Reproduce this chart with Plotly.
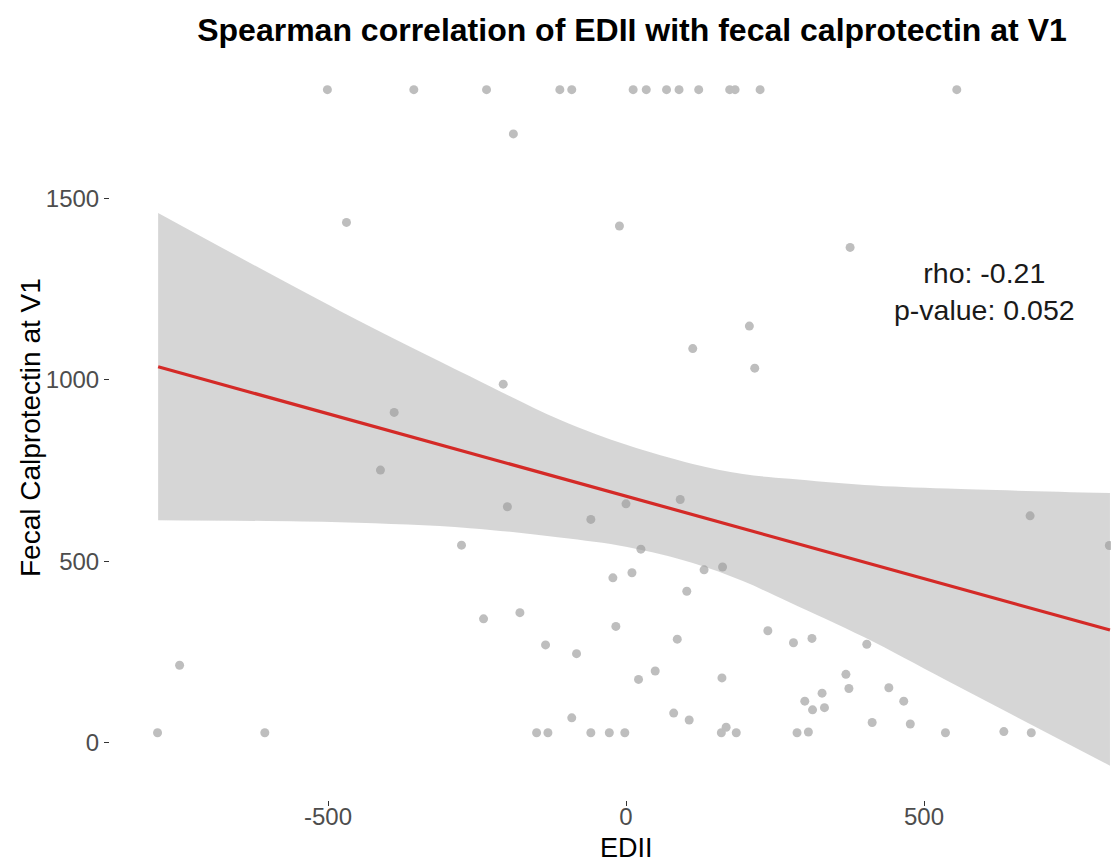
import plotly.graph_objects as go

# EDII (x) and fecal calprotectin at V1 (y)
edii = [
    -501, -356, -234, -111, -91, 12, 34, 68, 89, 122, 174, 183, 225, 555,
    -189, -469, -11, 376, 207, 112, 216, -206, -389, -412, -276, 678, 811,
    -749, -786, -606, -199, -59, 0, 91, 25, -22, 10, 131, 162, 102, -239,
    -178, -17, 86, 238, -135, -83, 49, 21, 161, 80, 106, -91,
    -150, -131, -59, -28, -2, 160, 168, 185,
    281, 312, 404, 369, 374, 441, 329, 300, 333, 313, 466, 413, 477,
    287, 306, 536, 634, 680,
]
calpro = [
    1800, 1800, 1800, 1800, 1800, 1800, 1800, 1800, 1800, 1800, 1800, 1800, 1800, 1800,
    1678, 1434, 1424, 1365, 1148, 1086, 1032, 988, 910, 751, 544, 625, 543,
    213, 27, 27, 650, 615, 658, 670, 533, 454, 468, 476, 484, 417, 341,
    358, 320, 285, 308, 269, 245, 197, 174, 178, 81, 62, 68,
    27, 27, 27, 27, 27, 27, 42, 27,
    275, 287, 271, 188, 149, 151, 136, 114, 96, 90, 114, 55, 51,
    27, 29, 27, 30, 27,
]

# linear fit line and its 95% confidence band
fit_x = [-785, 812]
fit_y = [1036, 310]
band_x = [-785, -480, -262, -111, 2, 112, 196, 275, 400, 539, 812]
band_upper = [1460, 1190, 1010, 890, 820, 768, 740, 727, 710, 700, 688]
band_lower = [613, 607, 591, 565, 539, 495, 445, 386, 290, 170, -64]

x_ticks = [-500, 0, 500]
y_ticks = [0, 500, 1000, 1500]
rho_text = "rho: -0.21<br>p-value: 0.052"

fig = go.Figure()
fig.add_trace(go.Scatter(x=edii, y=calpro, mode="markers",
                         marker=dict(size=9, color="#BEBEBE"), hoverinfo="skip"))
fig.add_trace(go.Scatter(x=band_x, y=band_upper, mode="lines",
                         line=dict(width=0, shape="spline", smoothing=1.0),
                         hoverinfo="skip"))
fig.add_trace(go.Scatter(x=band_x, y=band_lower, mode="lines",
                         line=dict(width=0, shape="spline", smoothing=1.0),
                         fill="tonexty", fillcolor="rgba(153,153,153,0.4)", hoverinfo="skip"))
fig.add_trace(go.Scatter(x=fit_x, y=fit_y, mode="lines",
                         line=dict(color="#D42A27", width=3.2), hoverinfo="skip"))

L, R, T, B = 110, 0, 56, 63
W, H = 1111, 863
px_per_x = 0.596
px_per_y = 0.3627
x0_px, y0_px = 626, 742.5
xr = [(L - x0_px) / px_per_x, (W - R - x0_px) / px_per_x]
yr = [(y0_px - (H - B)) / px_per_y, (y0_px - T) / px_per_y]

font = "Liberation Sans, Arial, sans-serif"
fig.update_layout(
    width=W, height=H,
    margin=dict(l=L, r=R, t=T, b=B),
    paper_bgcolor="white", plot_bgcolor="white",
    showlegend=False,
    font=dict(family=font),
    title=dict(text="<b>Spearman correlation of EDII with fecal calprotectin at V1</b>",
               xref="container", x=632 / W, xanchor="center",
               yref="container", y=1 - 30 / H, yanchor="middle",
               font=dict(size=32, color="black", family=font)),
    xaxis=dict(range=xr, showgrid=False, zeroline=False, showline=False,
               tickmode="array", tickvals=x_ticks, ticktext=[str(v) for v in x_ticks],
               ticks="outside", ticklen=5, tickcolor="#333333", tickwidth=1,
               ticklabelstandoff=-10,
               tickfont=dict(size=24, color="#4D4D4D", family=font)),
    yaxis=dict(range=yr, showgrid=False, zeroline=False, showline=False,
               tickmode="array", tickvals=y_ticks, ticktext=[str(v) for v in y_ticks],
               ticks="outside", ticklen=5, tickcolor="#333333", tickwidth=1,
               tickfont=dict(size=24, color="#4D4D4D", family=font)),
    annotations=[
        dict(text="EDII", xref="paper", x=(626 - L) / (W - L - R), yref="paper", y=0,
             yshift=-48, xanchor="center", yanchor="middle", showarrow=False,
             font=dict(size=27, color="black", family=font)),
        dict(text="Fecal Calprotectin at V1", xref="paper", x=0, xshift=30 - L,
             yref="paper", y=0.5, textangle=-90, xanchor="center", yanchor="middle",
             showarrow=False, font=dict(size=28, color="black", family=font)),
        dict(text=rho_text, xref="x", x=(984 - x0_px) / px_per_x,
             yref="y", y=(y0_px - 291.5) / px_per_y, xanchor="center", yanchor="middle",
             align="center", showarrow=False,
             font=dict(size=28.5, color="#1A1A1A", family=font)),
    ],
)

fig.write_html("out.html")
